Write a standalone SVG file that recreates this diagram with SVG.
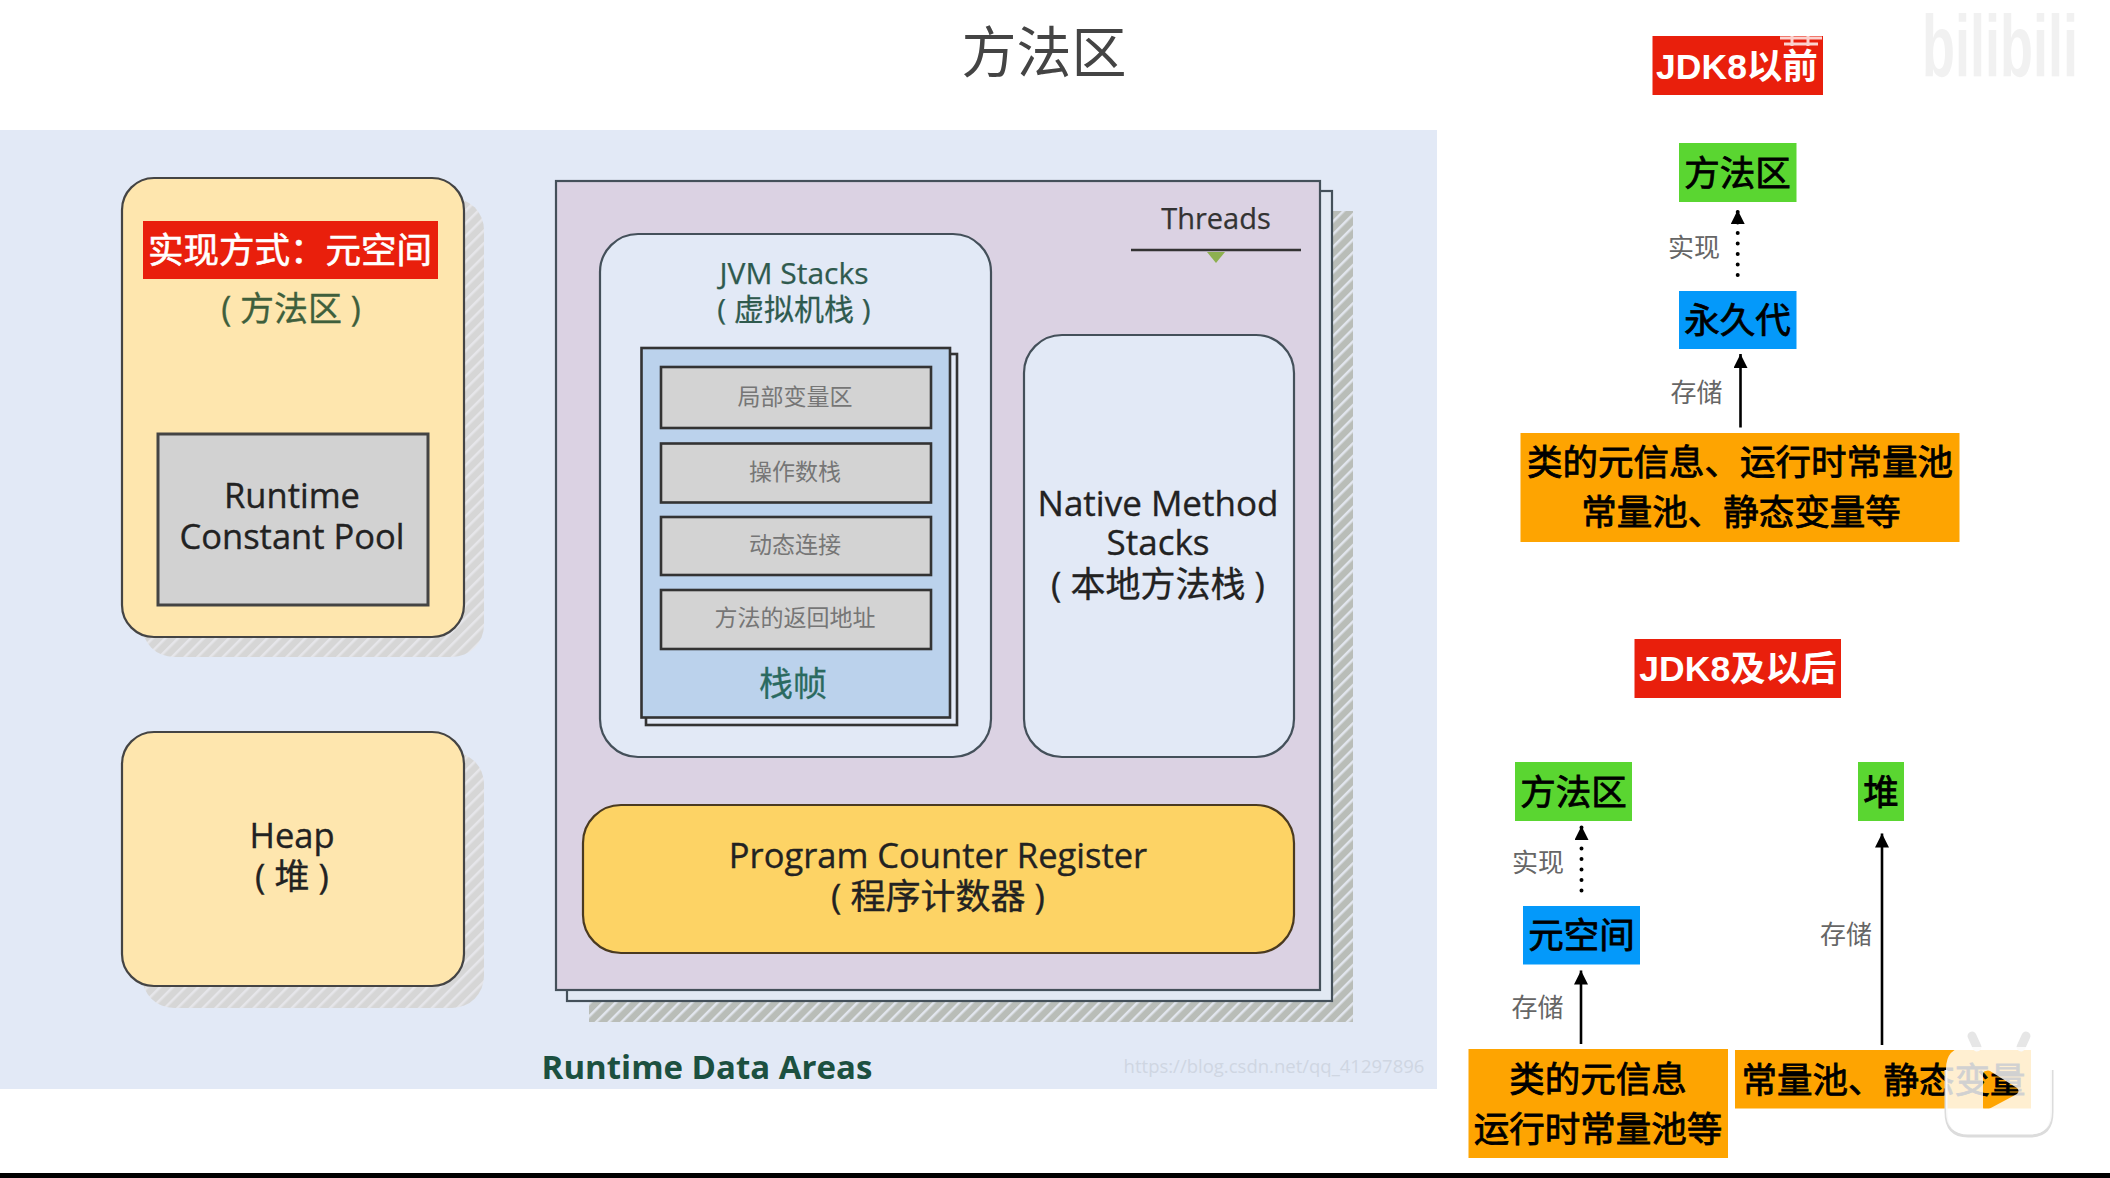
<svg xmlns="http://www.w3.org/2000/svg" width="2110" height="1178" viewBox="0 0 2110 1178">
<defs>
<pattern id="hatchL" width="9" height="9" patternUnits="userSpaceOnUse" patternTransform="rotate(45)"><rect width="9" height="9" fill="#d6d6d6"/><rect width="2.5" height="9" fill="#e6e6ea"/></pattern>
<pattern id="hatchD" width="9" height="9" patternUnits="userSpaceOnUse" patternTransform="rotate(45)"><rect width="9" height="9" fill="#b9bdb8"/><rect width="2.5" height="9" fill="#e2e6ee"/></pattern>
<marker id="head" markerUnits="userSpaceOnUse" markerWidth="16" markerHeight="16" refX="14" refY="7" orient="auto"><path d="M0 0L14 7L0 14Z" fill="#000"/></marker>
</defs>
<style>
text{font-family:"Open Sans","Noto Sans CJK SC","Noto Sans",sans-serif;text-anchor:middle}
.area{fill:#fee6ae;stroke:#444;stroke-width:2.2}
.blue{fill:#e2e9f6;stroke:#44505a;stroke-width:2.2}
.cell{fill:#d3d3d3;stroke:#333;stroke-width:2.6}
.cellt{font-size:23px;fill:#767676}
.lbl{font-size:34.500px;fill:#222;stroke:#222;stroke-width:.35}
.cn{font-size:35px}
.grn{font-size:30px;fill:#2f5a4e;stroke:#2f5a4e;stroke-width:.25}
.box{font-family:"Liberation Sans","Noto Sans CJK SC",sans-serif;font-size:35.500px;fill:#000;stroke:#000;stroke-width:.8}
.ttl{font-family:"Liberation Sans","Noto Sans CJK SC",sans-serif;font-size:35.500px;font-weight:700;fill:#fff}
.note{font-family:"Noto Sans CJK SC",sans-serif;font-size:26px;fill:#666}
.red{fill:#e91f0c}.gr{fill:#5ad631}.bl{fill:#0499fa}.or{fill:#fea401}
.solid{stroke:#000;stroke-width:2.6;fill:none;marker-end:url(#head)}
.dot{stroke:#000;stroke-width:4;stroke-linecap:round;stroke-dasharray:0 10.500;fill:none;marker-end:url(#head)}
</style>
<rect width="2110" height="1178" fill="#fff"/>
<rect id="panel" x="0" y="130" width="1437" height="959" fill="#e2e9f6"/>
<text id="title" x="1044" y="72" font-size="55" fill="#444" style="font-family:'Noto Sans CJK SC',sans-serif">方法区</text>

<g id="method-area">
<rect x="142" y="198" width="342" height="459" rx="32" fill="url(#hatchL)"/>
<rect class="area" x="122" y="178" width="342" height="459" rx="32"/>
<rect class="red" x="143" y="221" width="295" height="58"/>
<text x="290" y="263" font-size="35.500" fill="#fff" stroke="#fff" stroke-width=".6" style="font-family:'Noto Sans CJK SC',sans-serif">实现方式：元空间</text>
<text x="291" y="321" font-size="34" fill="#3f5f3c" stroke="#3f5f3c" stroke-width=".3">( 方法区 )</text>
</g>
<g id="constant-pool">
<rect x="158" y="434" width="270" height="171" fill="#d2d2d2" stroke="#444" stroke-width="3"/>
<text class="lbl" x="292" y="508">Runtime</text>
<text class="lbl" x="292" y="549">Constant Pool</text>
</g>
<g id="heap">
<rect x="142" y="752" width="342" height="256" rx="32" fill="url(#hatchL)"/>
<rect class="area" x="122" y="732" width="342" height="254" rx="32"/>
<text class="lbl" x="292" y="848">Heap</text>
<text class="lbl cn" x="292" y="889">( 堆 )</text>
</g>

<g id="threads-frame">
<rect x="589" y="211" width="764" height="811" fill="url(#hatchD)"/>
<rect x="567" y="191" width="765" height="810" fill="#e2e9f3" stroke="#44505a" stroke-width="2.2"/>
<rect x="556" y="181" width="764" height="809" fill="#dbd2e3" stroke="#44505a" stroke-width="2.2"/>
<text x="1216" y="229" font-size="29" fill="#333" stroke="#333" stroke-width=".25">Threads</text>
<path d="M1131 250H1301" stroke="#333" stroke-width="2.5" fill="none"/>
<path d="M1207 252H1225L1216 263Z" fill="#8db050"/>
</g>
<g id="jvm-stacks">
<rect class="blue" x="600" y="234" width="391" height="523" rx="38"/>
<text class="grn" x="794" y="284">JVM Stacks</text>
<text class="grn" x="794" y="320">( 虚拟机栈 )</text>
</g>
<g id="stack-frame">
<rect x="646" y="354" width="311" height="371" fill="#e2e9f6" stroke="#333" stroke-width="2.6"/>
<rect x="641.500" y="348" width="308.500" height="369.500" fill="#bbd2ec" stroke="#333" stroke-width="2.6"/>
<rect class="cell" x="661" y="367" width="270" height="61"/>
<text class="cellt" x="795" y="405">局部变量区</text>
<rect class="cell" x="661" y="443.500" width="270" height="59"/>
<text class="cellt" x="795" y="480">操作数栈</text>
<rect class="cell" x="661" y="517" width="270" height="58"/>
<text class="cellt" x="795" y="553">动态连接</text>
<rect class="cell" x="661" y="590" width="270" height="59"/>
<text class="cellt" x="795" y="626">方法的返回地址</text>
<text x="793" y="696" font-size="34" fill="#2a6a60" stroke="#2a6a60" stroke-width=".3">栈帧</text>
</g>
<g id="native-stacks">
<rect class="blue" x="1024" y="335" width="270" height="422" rx="38"/>
<text class="lbl" x="1158" y="516" style="font-size:35px">Native Method</text>
<text class="lbl" x="1158" y="555" style="font-size:35px">Stacks</text>
<text class="lbl cn" x="1158" y="597">( 本地方法栈 )</text>
</g>
<g id="pc-register">
<rect x="583" y="805" width="711" height="148" rx="38" fill="#fdd365" stroke="#4a3a20" stroke-width="2.2"/>
<text class="lbl" x="938" y="868">Program Counter Register</text>
<text class="lbl cn" x="938" y="909">( 程序计数器 )</text>
</g>
<text id="areas-label" x="707" y="1079" font-size="33" font-weight="700" fill="#1c5040">Runtime Data Areas</text>
<text id="watermark" x="1274" y="1073" font-size="18.500" fill="#cfd6e2">https://blog.csdn.net/qq_41297896</text>
<text id="site-logo" x="2000" y="76" font-size="88" font-weight="700" fill="#f1f1f1" textLength="156" lengthAdjust="spacingAndGlyphs" style="font-family:'Liberation Sans',sans-serif">bilibili</text>

<g id="connectors">
<path class="dot" d="M1737.700 275V210"/>
<path class="solid" d="M1740.500 427.500V354"/>
<path class="dot" d="M1581.500 890.500V826"/>
<path class="solid" d="M1581 1044V970.500"/>
<path class="solid" d="M1882 1045V833.500"/>
</g>

<g id="jdk8-before"><rect class="red" x="1652.500" y="36" width="170.500" height="59"/><text class="ttl" x="1737" y="79">JDK8以前</text><path d="M1780 38H1822M1784 44H1818M1792 34V46M1808 34V46" stroke="#fff" stroke-opacity=".8" stroke-width="3" fill="none"/></g>
<g id="before-method-area"><rect class="gr" x="1679" y="143" width="117.500" height="59"/><text class="box" x="1737.500" y="186">方法区</text></g>
<text id="before-impl" class="note" x="1694" y="257">实现</text>
<g id="permgen"><rect class="bl" x="1679" y="291" width="117.500" height="58"/><text class="box" x="1737.500" y="333">永久代</text></g>
<text id="before-store" class="note" x="1696.500" y="402">存储</text>
<g id="before-data"><rect class="or" x="1520.500" y="433" width="439" height="109"/><text class="box" x="1740" y="475">类的元信息、运行时常量池</text><text class="box" x="1741" y="525">常量池、静态变量等</text></g>

<g id="jdk8-after"><rect class="red" x="1634.500" y="639" width="206.500" height="59"/><text class="ttl" x="1738" y="681">JDK8及以后</text></g>
<g id="after-method-area"><rect class="gr" x="1515" y="762" width="117" height="59"/><text class="box" x="1573.500" y="805">方法区</text></g>
<g id="after-heap"><rect class="gr" x="1858" y="762" width="46" height="59"/><text class="box" x="1881" y="805">堆</text></g>
<text id="after-impl" class="note" x="1538" y="872">实现</text>
<g id="metaspace"><rect class="bl" x="1523" y="906" width="117" height="58.500"/><text class="box" x="1581.500" y="948">元空间</text></g>
<text id="after-store-left" class="note" x="1537.500" y="1017">存储</text>
<text id="after-store-right" class="note" x="1846" y="944">存储</text>
<g id="after-class-data"><rect class="or" x="1468.500" y="1049" width="259.500" height="109"/><text class="box" x="1598" y="1092">类的元信息</text><text class="box" x="1598" y="1142">运行时常量池等</text></g>
<g id="after-static-data"><rect class="or" x="1735" y="1050" width="296" height="58.500"/><text class="box" x="1883.500" y="1093">常量池、静态变量</text></g>

<g id="play-badge">
<path d="M1977 1047L1972 1036M2021 1047L2026 1036" stroke="#e6e6e6" stroke-width="9" stroke-linecap="round" fill="none"/>
<path d="M1946 1070V1112Q1946 1136 1968 1136H2030Q2052 1136 2052 1112V1070" stroke="#dcdcdc" stroke-width="3" fill="none"/>
<path fill="#fff" fill-opacity=".82" fill-rule="evenodd" d="M1968 1047H2030Q2052 1047 2052 1069V1112Q2052 1134 2030 1134H1968Q1946 1134 1946 1112V1069Q1946 1047 1968 1047ZM1986 1071Q1983 1071 1983 1075V1107Q1983 1111 1987 1110L2017 1094Q2020 1091 2017 1088L1990 1071Q1988 1070 1986 1071Z"/>
</g>
<rect id="bottom-bar" x="0" y="1173" width="2110" height="5" fill="#000"/>
</svg>
